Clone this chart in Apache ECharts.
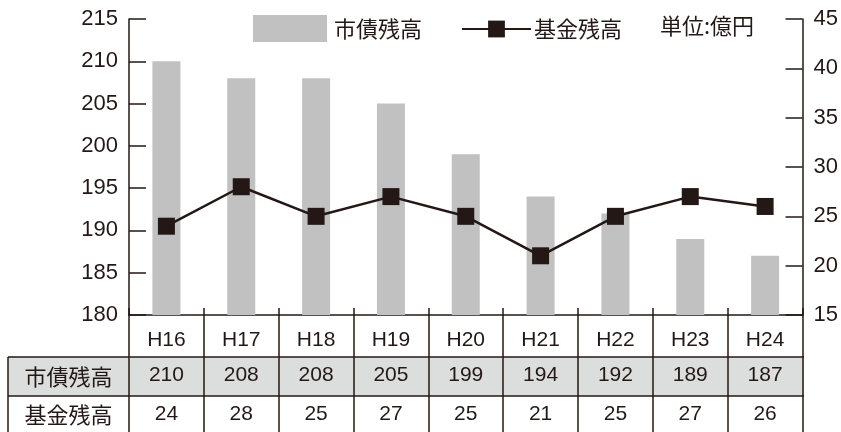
<!DOCTYPE html>
<html><head><meta charset="utf-8">
<script src="https://cdn.jsdelivr.net/npm/echarts@6/dist/echarts.min.js"></script>
<style>html,body{margin:0;padding:0;background:#fff}#c{width:841px;height:432px}</style>
</head><body><div id="c"></div>
<script>
const categories = ['H16','H17','H18','H19','H20','H21','H22','H23','H24'];
const debtValues = [210,208,208,205,199,194,192,189,187];
const fundValues = [24,28,25,27,25,21,25,27,26];
const debtName = '市債残高';
const fundName = '基金残高';
const unitText = '単位:億円';

const INK = '#231815';
const FONT = '"Liberation Sans", Arial, "Noto Sans CJK JP", sans-serif';
const CJK = '"Noto Sans CJK JP", sans-serif';

const chart = echarts.init(document.getElementById('c'), null, {renderer:'canvas'});
const tableAxis = (data, offset) => ({
  type:'category', data:data, gridIndex:0, position:'bottom', offset:offset,
  axisLine:{show:false,onZero:false}, axisTick:{show:false},
  axisLabel:{fontSize:21, color:INK, fontFamily:FONT, margin:8}
});
chart.setOption({
  animation:false,
  textStyle:{fontFamily:FONT, color:INK},
  title:{text:unitText, left:660, top:15, padding:0, textStyle:{fontSize:22, fontWeight:'normal', color:INK, fontFamily:CJK}},
  legend:[
    {data:[{name:debtName, icon:'rect'}], left:253, top:15, padding:0, itemWidth:74, itemHeight:27, itemGap:0,
     textStyle:{fontSize:22, color:INK, fontFamily:CJK, padding:[0,0,0,2]}},
    {data:[fundName], left:461, top:18, padding:0, itemWidth:69, itemHeight:21, itemGap:0,
     textStyle:{fontSize:22, color:INK, fontFamily:CJK, padding:[0,0,0,-2]}}
  ],
  grid:{left:129, right:37, top:19, bottom:117, containLabel:false},
  xAxis:[
    {type:'category', data:categories, position:'bottom', boundaryGap:true,
     axisLine:{show:true,onZero:false,lineStyle:{color:INK,width:1.5}},
     axisTick:{show:true,inside:true,length:7,alignWithLabel:false,lineStyle:{color:INK,width:1.5}},
     axisLabel:{fontSize:21,color:INK,fontFamily:FONT,margin:15}},
    {type:'category', data:categories, position:'bottom', boundaryGap:true,
     axisLine:{show:false,onZero:false},
     axisTick:{show:true,inside:false,length:125,alignWithLabel:false,lineStyle:{color:INK,width:1.5}},
     axisLabel:{show:false}},
    tableAxis(debtValues.map(String), 42),
    tableAxis(fundValues.map(String), 81)
  ],
  yAxis:[
    {type:'value', min:180, max:215, interval:5, position:'left',
     axisLine:{show:true,lineStyle:{color:INK,width:1.5}},
     axisTick:{show:true,inside:true,length:17,lineStyle:{color:INK,width:1.5}},
     axisLabel:{fontSize:22,color:INK,fontFamily:FONT,margin:11},
     splitLine:{show:false}},
    {type:'value', min:15, max:45, interval:5, position:'right',
     axisLine:{show:true,lineStyle:{color:INK,width:1.5}},
     axisTick:{show:true,inside:true,length:17,lineStyle:{color:INK,width:1.5}},
     axisLabel:{fontSize:22,color:INK,fontFamily:FONT,margin:11},
     splitLine:{show:false}}
  ],
  graphic:[
    {type:'rect', z:-10, shape:{x:8,y:357,width:796,height:39}, style:{fill:'#dcdddd'}},
    {type:'line', z:10, shape:{x1:8,y1:357,x2:804,y2:357}, style:{stroke:INK,lineWidth:1.5}},
    {type:'line', z:10, shape:{x1:8,y1:396,x2:804,y2:396}, style:{stroke:INK,lineWidth:1.5}},
    {type:'line', z:10, shape:{x1:8,y1:357,x2:8,y2:440}, style:{stroke:INK,lineWidth:1.5}},
    {type:'text', z:10, style:{text:debtName, x:68.5, y:377, align:'center', verticalAlign:'middle', font:'22px '+CJK, fill:INK}},
    {type:'text', z:10, style:{text:fundName, x:68.5, y:415, align:'center', verticalAlign:'middle', font:'22px '+CJK, fill:INK}}
  ],
  series:[
    {name:debtName, type:'bar', xAxisIndex:0, yAxisIndex:0, data:debtValues, barWidth:28,
     itemStyle:{color:'#c0c1c0'}},
    {name:fundName, type:'line', xAxisIndex:0, yAxisIndex:1, data:fundValues,
     symbol:'rect', symbolSize:17, lineStyle:{color:INK,width:2.5}, itemStyle:{color:INK}, z:5}
  ]
});
</script></body></html>
